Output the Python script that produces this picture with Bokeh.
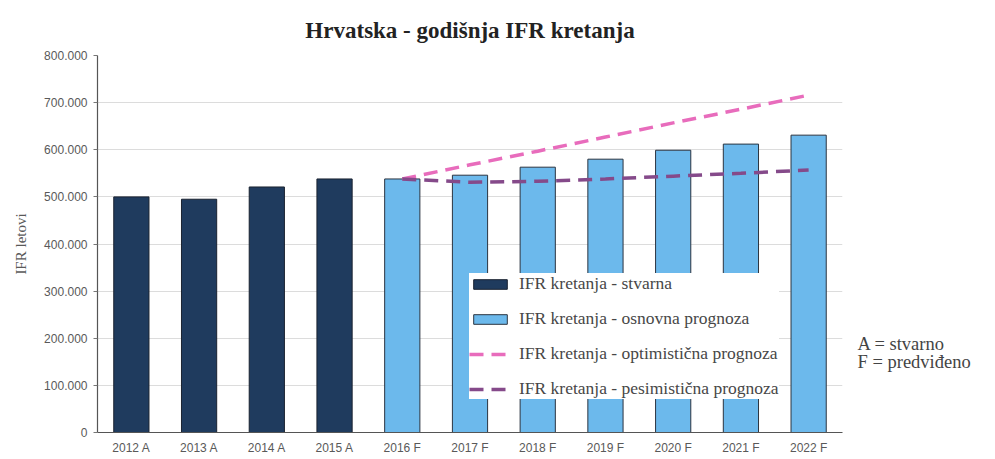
from bokeh.plotting import figure
from bokeh.layouts import row
from bokeh.models import (ColumnDataSource, Legend, LegendItem, FixedTicker,
                          CustomJSTickFormatter, Range1d)
from bokeh.core.properties import value
from bokeh.embed import file_html
from bokeh.resources import INLINE

# ---- data ----
categories = ["2012 A", "2013 A", "2014 A", "2015 A", "2016 F", "2017 F",
              "2018 F", "2019 F", "2020 F", "2021 F", "2022 F"]
actual_cats = ["2012 A", "2013 A", "2014 A", "2015 A"]
actual_vals = [500000, 495000, 521000, 538000]
forecast_cats = ["2016 F", "2017 F", "2018 F", "2019 F", "2020 F", "2021 F", "2022 F"]
forecast_vals = [538000, 546000, 563000, 580000, 599000, 612000, 631000]
optimistic_vals = [538000, 568000, 597000, 627000, 657000, 686000, 716000]
pessimistic_vals = [538000, 531000, 533000, 538000, 544000, 550000, 557000]
y_ticks = [0, 100000, 200000, 300000, 400000, 500000, 600000, 700000, 800000]

title_text = "Hrvatska - godišnja IFR kretanja"
legend_labels = ["IFR kretanja - stvarna", "IFR kretanja - osnovna prognoza",
                 "IFR kretanja - optimistična prognoza", "IFR kretanja - pesimistična prognoza"]
note_labels = ["A = stvarno", "F = predviđeno"]

SERIF = "Liberation Serif"
SANS = "Liberation Sans"
GREY = "#595959"
H = 457
MAIN_W = 845
SIDE_W = 134

p = figure(x_range=categories, width=MAIN_W, height=H, output_backend="svg",
           toolbar_location=None, title=title_text)
p.y_range = Range1d(0, 800000)
p.min_border_left = 97
p.min_border_right = 3
p.min_border_top = 55
p.min_border_bottom = 24
p.outline_line_color = None

p.title.align = "center"
p.title.text_font = SERIF
p.title.text_font_size = "23px"
p.title.text_font_style = "bold"
p.title.text_color = "#222222"
p.title.standoff = 26

src_a = ColumnDataSource(dict(cat=actual_cats, val=actual_vals))
src_f = ColumnDataSource(dict(cat=forecast_cats, val=forecast_vals))
src_o = ColumnDataSource(dict(cat=forecast_cats, val=optimistic_vals))
src_p = ColumnDataSource(dict(cat=forecast_cats, val=pessimistic_vals))

r_a = p.vbar(x="cat", top="val", width=0.52, source=src_a,
             fill_color="#1f3b5e", line_color="#1a2230", line_width=1)
r_f = p.vbar(x="cat", top="val", width=0.52, source=src_f,
             fill_color="#6cb9ec", line_color="#2b3440", line_width=1)
r_o = p.line(x="cat", y="val", source=src_o, line_color="#e86cbc",
             line_width=3.5, line_dash="14 8")
r_p = p.line(x="cat", y="val", source=src_p, line_color="#854a8a",
             line_width=3.5, line_dash="14 8")

# axes
p.yaxis.ticker = FixedTicker(ticks=y_ticks)
p.yaxis.formatter = CustomJSTickFormatter(code="""
    return Math.round(tick).toString().replace(/\\B(?=(\\d{3})+(?!\\d))/g, ".");
""")
p.yaxis.axis_label = "IFR letovi"
p.yaxis.axis_label_text_font = SERIF
p.yaxis.axis_label_text_font_style = "normal"
p.yaxis.axis_label_text_font_size = "15px"
p.yaxis.axis_label_text_color = GREY
p.yaxis.axis_label_standoff = 12
for ax in (p.xaxis, p.yaxis):
    ax.major_label_text_font = SANS
    ax.major_label_text_font_size = "12px"
    ax.major_label_text_color = GREY
    ax.axis_line_color = "#555555"
    ax.axis_line_width = 1.2
    ax.minor_tick_line_color = None
p.yaxis.major_tick_out = 4
p.yaxis.major_tick_in = 0
p.yaxis.major_tick_line_color = "#777777"
p.xaxis.major_tick_line_color = None
p.xaxis.major_tick_out = 0
p.xaxis.major_tick_in = 0
p.xaxis.major_label_standoff = 8
p.yaxis.major_label_standoff = 6

p.xgrid.grid_line_color = None
p.ygrid.grid_line_color = "#dcdcdc"
p.ygrid.grid_line_width = 1

legend = Legend(items=[
    LegendItem(label=legend_labels[0], renderers=[r_a]),
    LegendItem(label=legend_labels[1], renderers=[r_f]),
    LegendItem(label=legend_labels[2], renderers=[r_o]),
    LegendItem(label=legend_labels[3], renderers=[r_p]),
], location=(372, 33))
legend.label_text_font = SERIF
legend.label_text_font_size = "17.5px"
legend.label_text_color = "#474747"
legend.glyph_width = 42
legend.glyph_height = 12
legend.label_height = 20
legend.label_standoff = 8
legend.spacing = 14
legend.padding = 14
legend.margin = 0
legend.border_line_color = None
legend.background_fill_color = "white"
legend.background_fill_alpha = 1.0
p.add_layout(legend, "center")

# side panel with the A/F note
side = figure(width=SIDE_W, height=H, output_backend="svg", toolbar_location=None,
              x_range=Range1d(0, SIDE_W), y_range=Range1d(H, 0))
side.axis.visible = False
side.grid.visible = False
side.outline_line_color = None
side.min_border = 0
side.text(x=[12, 12], y=[350, 372], text=note_labels, text_font=value(SERIF),
          text_font_size="18.5px", text_color="#444444", text_baseline="middle")

layout = row(p, side)
open("out.html", "w").write(file_html(layout, INLINE))
